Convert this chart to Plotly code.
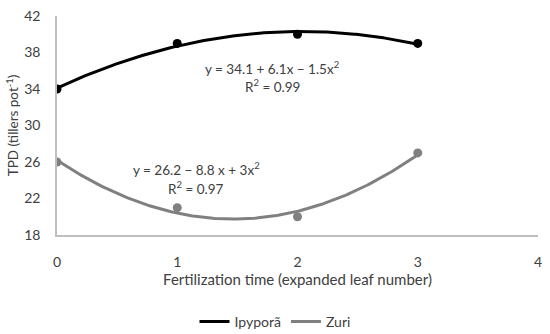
import numpy as np
import plotly.graph_objects as go

x_vals = [0, 1, 2, 3]
ipypora = [34, 39, 40, 39]
zuri = [26, 21, 20, 27]
x_ticks = [0, 1, 2, 3, 4]
y_ticks = [18, 22, 26, 30, 34, 38, 42]

eq_ipy = ["y = 34.1 + 6.1x − 1.5x<sup>2</sup>", "R<sup>2</sup> = 0.99"]
eq_zuri = ["y = 26.2 − 8.8 x + 3x<sup>2</sup>", "R<sup>2</sup> = 0.97"]

FONT = "Lato, 'Open Sans', sans-serif"
TXT = "#404040"

xs = np.linspace(0, 3, 200)
c_ipy = np.polyval(np.polyfit(x_vals, ipypora, 2), xs)
c_zuri = np.polyval(np.polyfit(x_vals, zuri, 2), xs)

fig = go.Figure()
fig.add_trace(go.Scatter(x=xs, y=c_ipy, mode="lines", line=dict(color="#000000", width=3),
                         name="Ipyporã", hoverinfo="skip"))
fig.add_trace(go.Scatter(x=xs, y=c_zuri, mode="lines", line=dict(color="#808080", width=3),
                         name="Zuri", hoverinfo="skip"))
fig.add_trace(go.Scatter(x=x_vals, y=ipypora, mode="markers",
                         marker=dict(color="#000000", size=9), showlegend=False))
fig.add_trace(go.Scatter(x=x_vals, y=zuri, mode="markers",
                         marker=dict(color="#808080", size=9), showlegend=False))

ann_font = dict(family=FONT, size=13.5, color=TXT)
fig.add_annotation(x=1.79, y=36.35, text=eq_ipy[0], showarrow=False, font=ann_font)
fig.add_annotation(x=1.79, y=34.35, text=eq_ipy[1], showarrow=False, font=ann_font)
fig.add_annotation(x=1.16, y=25.2, text=eq_zuri[0], showarrow=False, font=ann_font)
fig.add_annotation(x=1.16, y=23.2, text=eq_zuri[1], showarrow=False, font=ann_font)

fig.update_layout(
    width=550, height=334,
    margin=dict(l=57, r=12, t=16, b=99),
    paper_bgcolor="white", plot_bgcolor="white",
    font=dict(family=FONT, size=14, color=TXT),
    xaxis=dict(range=[0, 4], tickvals=x_ticks, showgrid=False, zeroline=False,
               showline=True, linecolor="#bfbfbf", linewidth=1.5, ticks="",
               ticklabelstandoff=13, automargin=False,
               title=dict(text="Fertilization time (expanded leaf number)", standoff=6,
                          font=dict(size=15))),
    yaxis=dict(range=[18, 42], tickvals=y_ticks, showgrid=False, zeroline=False,
               showline=True, linecolor="#bfbfbf", linewidth=1.5, ticks="",
               ticklabelstandoff=12, automargin=False,
               title=dict(text="TPD (tillers pot<sup>-1</sup>)", standoff=2,
                          font=dict(size=13.5))),
    legend=dict(orientation="h", x=0.5, xanchor="center", xref="container",
                y=0.036, yanchor="middle", yref="container",
                font=dict(size=14), itemwidth=30),
    showlegend=True,
)

fig.write_html("out.html", config={"displayModeBar": False},
               post_script="document.body.style.margin='0';")
